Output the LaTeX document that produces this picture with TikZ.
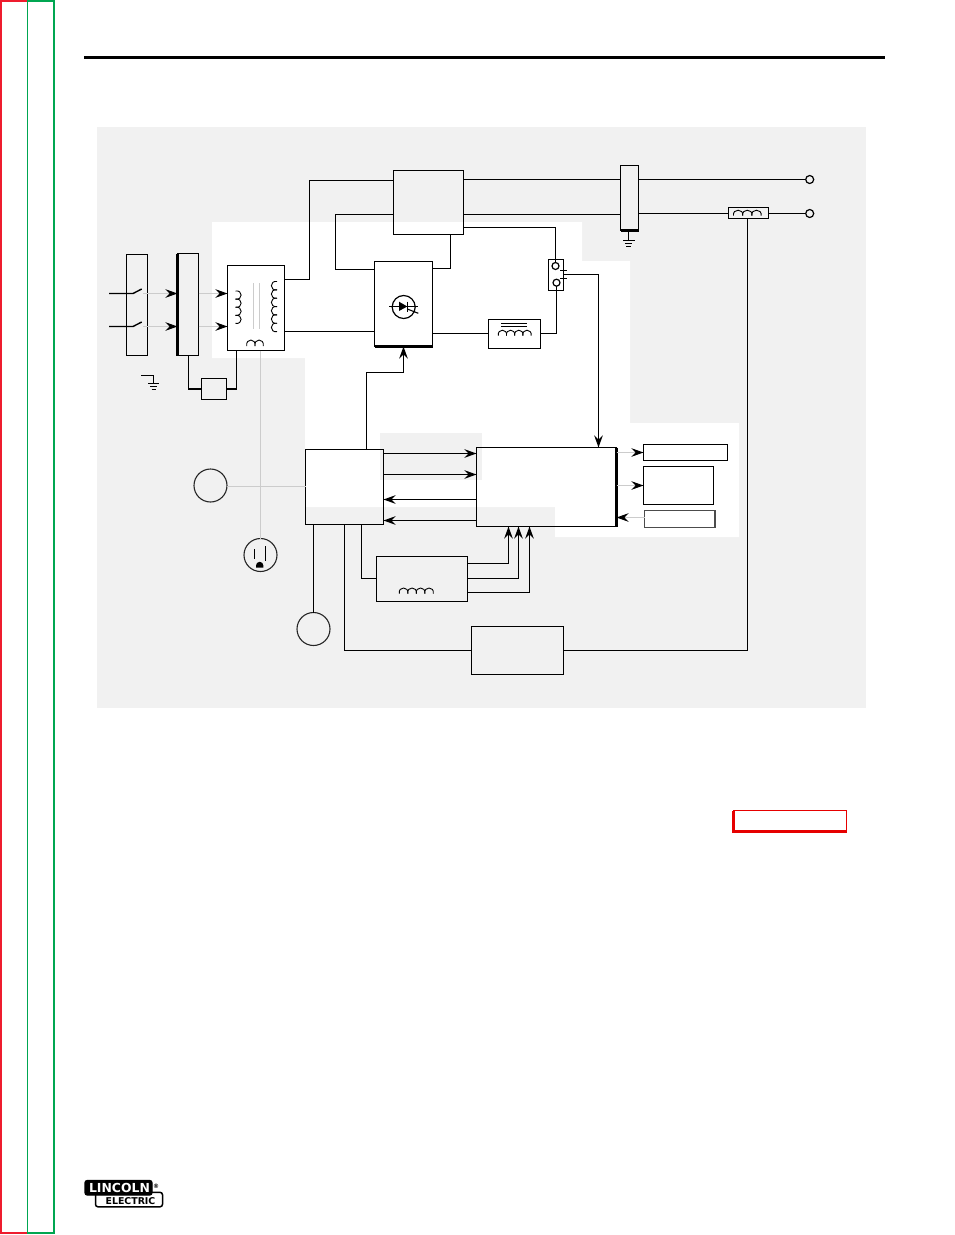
\documentclass[tikz,border=0pt]{standalone}
\usepackage{fontspec}
\setmainfont{Liberation Sans}
\newfontfamily\logofont{DejaVu Sans}
\usetikzlibrary{arrows.meta}
\definecolor{panel}{HTML}{F1F1F1}
\definecolor{ghost}{HTML}{CCCCCC}
\definecolor{edgered}{HTML}{EE1C2E}
\definecolor{edgegreen}{HTML}{00A651}
\definecolor{boxred}{HTML}{E60000}
\newcommand{\hcoil}[5]{\foreach \i in {1,...,#4}{\draw[coilline] ({#1+(\i-1)*#3},#2) .. controls +(-0.15*#3,-1.33*#5) and +(0.15*#3,-1.33*#5) .. ({#1+\i*#3},#2);}}
\newcommand{\vcoil}[5]{\foreach \i in {1,...,#4}{\draw[coilline] (#1,{#2+(\i-1)*#3}) .. controls +(#5,-0.15*#3) and +(#5,0.15*#3) .. (#1,{#2+\i*#3});}}
\tikzset{
  x=1pt,y=-1pt,
  blk/.style={draw=black,line width=1.4pt,inner sep=0pt,outer sep=0pt,anchor=north west},
  ring/.style={circle,draw=black!85,line width=1.1pt,inner sep=0pt,outer sep=0pt,minimum size=33pt},
  term/.style={circle,draw=black,line width=1.2pt,inner sep=0pt,outer sep=0pt,minimum size=8pt},
  wire/.style={draw=black,line width=1.4pt},
  heavy/.style={draw=black,line width=2.5pt},
  faint/.style={draw=ghost,line width=1pt},
  coilline/.style={draw=black,line width=.9pt},
  tip/.style={-{Stealth[length=12pt,width=8.5pt,inset=4pt,color=black]}},
}
\begin{document}
\begin{tikzpicture}
\useasboundingbox (0,0) rectangle (954,1235);
\fill[white] (0,0) rectangle (954,1235);
% page edges
\draw[edgered,line width=2.2pt] (27,1.1) -- (1.1,1.1) -- (1.1,1233) -- (27,1233);
\draw[edgegreen,line width=2.2pt] (27,1.1) -- (53.6,1.1) -- (53.6,1233) -- (27,1233);
\draw[edgegreen,line width=1pt] (27.5,1) -- (27.5,1233);
\fill[black] (84,55.8) rectangle (885,58.9);
% panel
\fill[panel] (97,127) rectangle (866,708);
\fill[white] (212,222) -- (582,222) -- (582,261) -- (630,261) -- (630,423) -- (739,423) -- (739,537) -- (555,537) -- (555,507) -- (305,507) -- (305,358) -- (212,358) -- cycle;
\fill[panel] (380,433) rectangle (482,480);
% blocks
\node[blk,minimum width=21pt,minimum height=101pt] (A) at (126.5,254.5) {};
\node[blk,minimum width=21pt,minimum height=102pt] (B) at (177.5,253.5) {};
\node[blk,minimum width=57pt,minimum height=85pt] (C) at (227.5,265.5) {};
\node[blk,minimum width=25pt,minimum height=21pt] (D) at (201.5,378.5) {};
\node[blk,minimum width=70pt,minimum height=64pt] (E) at (393.5,170.5) {};
\node[blk,minimum width=58pt,minimum height=85pt] (F) at (374.5,261.5) {};
\node[blk,minimum width=18pt,minimum height=65pt] (G) at (620.5,165.5) {};
\node[blk,minimum width=15pt,minimum height=31pt] (H) at (548.5,259.5) {};
\node[blk,minimum width=52pt,minimum height=29pt] (I) at (488.5,319.5) {};
\node[blk,minimum width=140pt,minimum height=79pt] (J) at (476.5,447.5) {};
\node[blk,minimum width=78pt,minimum height=75pt] (K) at (305.5,449.5) {};
\node[blk,minimum width=40pt,minimum height=11pt] (L) at (728.5,207.5) {};
\node[blk,minimum width=92pt,minimum height=48pt] (M) at (471.5,626.5) {};
\node[blk,minimum width=91pt,minimum height=45pt] (P) at (376.5,556.5) {};
\node[blk,minimum width=84pt,minimum height=16pt] (Q) at (643.5,444.5) {};
\node[blk,minimum width=70pt,minimum height=38pt] (R) at (643.5,466.5) {};
\node[blk,draw=black!70,minimum width=70.5pt,minimum height=17pt] (S) at (644.5,510.5) {};
\node[ring] (N) at (210.5,485.5) {};
\node[ring] (O) at (313.5,629) {};
\node[ring] (U) at (260.5,555) {};
\node[term] (T1) at (809.7,179.5) {};
\node[term] (T2) at (809.7,213.5) {};
\node[term,minimum size=7pt] (H1) at (555.5,266) {};
\node[term,minimum size=7pt] (H2) at (556.5,282.7) {};
% thick edges
\draw[heavy] (B.north west) -- (B.south west);
\draw[heavy] (F.south west) -- (F.south east);
\draw[heavy] (G.south west) -- (G.south east);
\draw[heavy] (J.north east) -- (J.south east);
% switches
\coordinate (sw1) at (133,293.5);
\coordinate (sw2) at (133,326.5);
\draw[wire] (109,293.5) -- (sw1) -- (141.7,289);
\draw[wire] (109,326.5) -- (sw2) -- (141.7,322);
% faint arrows
\draw[faint,tip] (143,293.5) -- (B.west |- sw1);
\draw[faint,tip] (143,326.5) -- (B.west |- sw2);
\draw[faint,tip] (B.east |- sw1) -- (C.west |- sw1);
\draw[faint,tip] (B.east |- sw2) -- (C.west |- sw2);
\draw[faint,tip] (J.east |- Q.west) -- (Q.west);
\draw[faint,tip] (J.east |- R.west) -- (R.west);
\draw[faint,tip] (S.west |- 0,517.5) -- (J.east |- 0,517.5);
\draw[faint] (N.east |- 0,486.5) -- (K.west |- 0,486.5);
\draw[faint] (C.south -| U.north) -- (U.north);
% ground 1
\draw[wire,line width=1.1pt] (141,375.5) -- (153.5,375.5) -- (153.5,383.5);
\draw[wire,line width=1.1pt] (148,383.5) -- (159,383.5);
\draw[wire,line width=1.1pt] (150.3,386.5) -- (156.7,386.5);
\draw[wire,line width=1.1pt] (151.5,389.5) -- (155.5,389.5);
% ground 2
\coordinate (g2) at (628.5,240.5);
\draw[wire] (G.south -| g2) -- (g2);
\draw[wire,line width=1.1pt] (623,240.5) -- (635,240.5);
\draw[wire,line width=1.1pt] (625,243.5) -- (632,243.5);
\draw[wire,line width=1.1pt] (626.3,246.5) -- (630.7,246.5);
% transformer
\vcoil{235.5}{291}{8.1}{4}{7.5}
\vcoil{277}{281.5}{8.35}{6}{-7.5}
\draw[faint] (253.5,283) -- (253.5,329);
\draw[faint] (259.5,283) -- (259.5,329);
\hcoil{246.7}{346}{8.3}{2}{6}
% wires
\draw[wire] (B.south -| 188.5,0) |- (D.west);
\draw[wire] (D.east) -| (C.south -| 236.5,0);
\draw[wire] (C.east |- 0,279.5) -| (309.5,180.5) -- (E.west |- 0,180.5);
\draw[wire] (C.east |- 0,331.5) -- (F.west |- 0,331.5);
\draw[wire] (E.west |- 0,214.5) -| (335.5,269.5) -- (F.west |- 0,269.5);
\draw[wire] (F.east |- 0,268.5) -| (E.south -| 450.5,0);
\draw[wire] (E.east |- 0,179.5) -- (G.west |- 0,179.5);
\draw[wire] (E.east |- 0,214.5) -- (G.west |- 0,214.5);
\draw[wire] (E.east |- 0,227.5) -| (H1.north);
\draw[wire] (H2.south) |- (I.east |- 0,333.5);
\draw[wire] (F.east |- 0,333.5) -- (I.west |- 0,333.5);
\draw[wire] (G.east |- T1) -- (T1);
\draw[wire] (G.east |- T2) -- (L.west |- T2);
\draw[wire] (L.east |- T2) -- (T2);
\draw[wire] (L.south -| 747.5,0) |- (M.east |- 0,650.5);
\draw[wire] (K.south -| 344.5,0) |- (M.west |- 0,650.5);
\draw[wire] (K.south -| 361.5,0) |- (P.west |- 0,578.5);
\draw[wire] (K.south -| O.north) -- (O.north);
\draw[wire,tip] (K.north -| 366.5,0) |- (403.5,372.5) -- (F.south);
\draw[wire,tip] (564,274.5) -| (J.north -| 598.5,0);
\draw[wire,tip] (K.east |- 0,453.5) -- (J.west |- 0,453.5);
\draw[wire,tip] (K.east |- 0,474.5) -- (J.west |- 0,474.5);
\draw[wire,tip] (J.west |- 0,499.5) -- (K.east |- 0,499.5);
\draw[wire,tip] (J.west |- 0,520.5) -- (K.east |- 0,520.5);
\draw[wire,tip] (P.east |- 0,563.5) -| (J.south -| 508.5,0);
\draw[wire,tip] (P.east |- 0,578.5) -| (J.south -| 518.5,0);
\draw[wire,tip] (P.east |- 0,592.5) -| (J.south -| 529.5,0);
% contact ticks
\draw[wire,line width=1.1pt] (560,270.5) -- (567,270.5);
\draw[wire,line width=1.1pt] (560,278.5) -- (567,278.5);
% scr symbol
\node[circle,draw=black,line width=1.2pt,inner sep=0pt,minimum size=23pt] (scr) at (403.7,307) {};
\draw[wire,line width=1.1pt] (389.3,306.5) -- (418,306.5);
\fill[black] (399,301.7) -- (407.3,306.5) -- (399,311) -- cycle;
\draw[wire,line width=1.1pt] (407.5,301.7) -- (407.5,311.5);
\draw[wire,line width=1.1pt] (407.3,309) -- (418.3,313.3);
% inductors
\draw[wire,line width=1pt] (501,323.5) -- (526.7,323.5);
\draw[wire,line width=1pt] (501,326.5) -- (526.7,326.5);
\hcoil{498.3}{335.7}{8.2}{4}{5.5}
\hcoil{733.5}{215.7}{9.2}{3}{5.5}
\hcoil{399.3}{593.5}{8.5}{4}{5.5}
% outlet
\draw[wire,line width=1pt] (254.5,549.3) -- (254.5,558.7);
\draw[wire,line width=1pt] (265.5,546) -- (265.5,560.7);
\fill[black] (256,567.7) -- (256,565.5) arc[start angle=180,end angle=360,radius=3.7] -- (263.4,567.7) -- cycle;
% red box
\node[blk,draw=boxred,minimum width=113pt,minimum height=21pt] (redbox) at (733.5,810.5) {};
\draw[boxred,line width=2.2pt] (redbox.north west) -- (redbox.south west) -- (redbox.south east);
% logo
\node[blk,draw=black,fill=white,line width=1.5pt,rounded corners=2.5pt,minimum width=67pt,minimum height=14.5pt] (logob) at (95.5,1192.3) {};
\node[blk,draw=black,fill=black,rounded corners=2.5pt,minimum width=67pt,minimum height=14.5pt] (logoa) at (85,1180.5) {};
\node[inner sep=0pt,text=white,font=\logofont\fontsize{12.4}{14}\selectfont\bfseries,anchor=base] (lincoln) at (119.5,1192) {LINCOLN};
\node[inner sep=0pt,text=black,font=\logofont\fontsize{9.4}{11}\selectfont\bfseries,anchor=base] (electric) at (130.5,1204.7) {ELECTRIC};
\node[inner sep=0pt,text=black,font=\logofont\fontsize{6}{8}\selectfont\bfseries] (reg) at (156,1186) {®};
\end{tikzpicture}
\end{document}
